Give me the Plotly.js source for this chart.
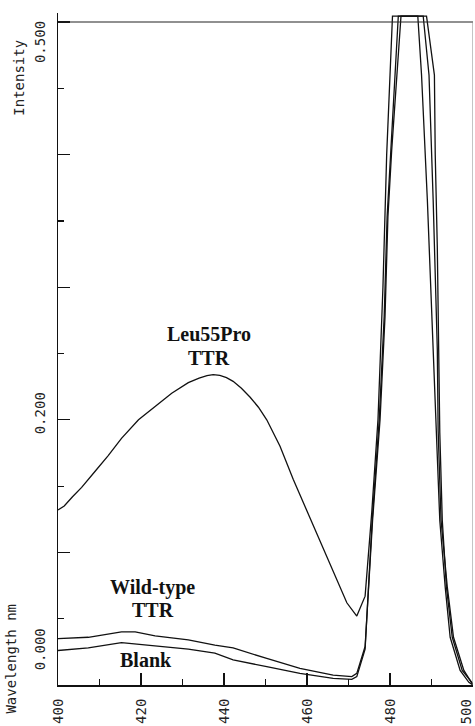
<!DOCTYPE html>
<html>
<head>
<meta charset="utf-8">
<script src="https://cdn.plot.ly/plotly-3.0.1.min.js"></script>
<style>html,body{margin:0;padding:0;background:#fff;}#chart{width:475px;height:726px;}</style>
</head>
<body>
<div id="chart"></div>
<script>
// ---- data (wavelength nm, intensity) ----
const leuX = [400, 401.5, 403.5, 405.7, 408.9, 412.1, 415.3, 419.4, 423.4, 427.4, 431.4, 434.0, 435.9, 437.4, 439.0, 440.6, 442.2, 444.2, 446.3, 448.3, 450.3, 453.5, 456.7, 459.9, 463.1, 466.3, 469.6, 472, 474, 475.6, 477.1, 478.3, 479.2, 480.6, 488.8, 490.7, 490.9, 491.4, 491.7, 492.0, 492.6, 493.6, 495.0, 497.4, 499.7, 500];
const leuY = [0.132, 0.135, 0.142, 0.149, 0.161, 0.173, 0.186, 0.200, 0.210, 0.220, 0.228, 0.2315, 0.2333, 0.234, 0.2335, 0.2318, 0.229, 0.2238, 0.217, 0.2095, 0.200, 0.180, 0.155, 0.132, 0.109, 0.087, 0.062, 0.052, 0.067, 0.13, 0.2, 0.30, 0.40, 0.5045, 0.5045, 0.46, 0.40, 0.33, 0.25, 0.19, 0.124, 0.074, 0.036, 0.011, 0.002, 0.0];

const wildX = [400, 407.3, 415.3, 418.6, 423.4, 431.4, 437.8, 442.2, 450.3, 458.3, 466.3, 470.8, 472, 474, 475.8, 477.6, 478.8, 479.5, 480.4, 482.65, 486.7, 487.6, 489.0, 490.4, 491.1, 492.0, 493.3, 494.5, 496.9, 499.0, 500];
const wildY = [0.035, 0.036, 0.040, 0.040, 0.037, 0.034, 0.030, 0.028, 0.020, 0.0126, 0.0075, 0.0063, 0.0088, 0.029, 0.124, 0.2, 0.278, 0.353, 0.403, 0.5045, 0.5045, 0.46, 0.366, 0.253, 0.192, 0.124, 0.074, 0.036, 0.011, 0.002, 0.0];

const blankX = [400, 407.3, 415.3, 418.6, 423.4, 431.4, 437.8, 442.2, 450.3, 458.3, 466.3, 470.8, 472, 474, 475.7, 477.4, 478.6, 479.3, 480.2, 482.0, 488.0, 489.4, 490.4, 491.4, 491.6, 492.3, 493.8, 495.3, 497.8, 499.6, 500];
const blankY = [0.026, 0.028, 0.032, 0.031, 0.029, 0.027, 0.024, 0.019, 0.0138, 0.0088, 0.005, 0.0043, 0.0063, 0.027, 0.124, 0.2, 0.278, 0.353, 0.403, 0.5045, 0.5045, 0.46, 0.366, 0.253, 0.192, 0.124, 0.074, 0.036, 0.011, 0.002, 0.0];

const xTickVals = [400, 420, 440, 460, 480, 500];
const xTickText = ["400", "420", "440", "460", "480", "500"];
const yTickText = ["0.500", "0.200", "0.000"];
const yTickPos = [0.485, 0.205, 0.027];

const seriesNames = ["Leu55Pro TTR", "Wild-type TTR", "Blank"];
const curveLabels = [
  {text: "Leu55Pro", x: 436.5, y: 0.2649},
  {text: "TTR", x: 436.5, y: 0.2468},
  {text: "Wild-type", x: 422.8, y: 0.0732},
  {text: "TTR", x: 422.8, y: 0.0565},
  {text: "Blank", x: 421.2, y: 0.0188}
];

const lineStyle = {color: "#111", width: 1.3};
const traces = [
  {x: leuX, y: leuY, name: seriesNames[0], mode: "lines", line: lineStyle},
  {x: wildX, y: wildY, name: seriesNames[1], mode: "lines", line: lineStyle},
  {x: blankX, y: blankY, name: seriesNames[2], mode: "lines", line: lineStyle}
];

const monoFont = {family: "DejaVu Sans Mono", size: 14, color: "#222"};
const annotations = [];
curveLabels.forEach(c => annotations.push({
  text: "<b>" + c.text + "</b>", x: c.x, y: c.y, xref: "x", yref: "y",
  showarrow: false, xanchor: "center", yanchor: "middle",
  font: {family: "Liberation Serif", size: 20, color: "#111"}
}));
xTickVals.forEach((v, i) => annotations.push({
  text: xTickText[i], x: (i === xTickVals.length - 1) ? 498.2 : v, y: -0.040, xref: "x", yref: "paper",
  showarrow: false, textangle: -90, xanchor: "center", yanchor: "middle", font: monoFont
}));
yTickText.forEach((t, i) => annotations.push({
  text: t, x: -0.043, y: yTickPos[i], xref: "paper", yref: "y",
  showarrow: false, textangle: -90, xanchor: "center", yanchor: "middle", font: monoFont
}));
annotations.push({text: "Intensity", x: -0.094, y: 0.458, xref: "paper", yref: "y",
  showarrow: false, textangle: -90, xanchor: "center", yanchor: "middle", font: monoFont});
annotations.push({text: "Wavelength nm", x: -0.113, y: 0.020, xref: "paper", yref: "y",
  showarrow: false, textangle: -90, xanchor: "center", yanchor: "middle", font: monoFont});

const layout = {
  width: 475, height: 726,
  margin: {l: 58, r: 2, t: 13, b: 41},
  paper_bgcolor: "#fff", plot_bgcolor: "#fff",
  showlegend: false,
  xaxis: {
    range: [400, 500], showgrid: false, zeroline: false,
    showline: true, linecolor: "#111", linewidth: 1.5,
    ticks: "inside", tick0: 400, dtick: 20, ticklen: 12, tickwidth: 1.2, tickcolor: "#111",
    minor: {dtick: 10, ticks: "inside", ticklen: 6, tickwidth: 1.2, tickcolor: "#111", showgrid: false},
    showticklabels: false
  },
  yaxis: {
    range: [0, 0.5068], showgrid: false, zeroline: false,
    showline: true, linecolor: "#111", linewidth: 1.5,
    ticks: "inside", tick0: 0, dtick: 0.1, ticklen: 12, tickwidth: 1.2, tickcolor: "#111",
    minor: {dtick: 0.05, ticks: "inside", ticklen: 6, tickwidth: 1.2, tickcolor: "#111", showgrid: false},
    showticklabels: false
  },
  shapes: [
    {type: "line", xref: "x", yref: "y", x0: 400, x1: 500, y0: 0.5, y1: 0.5, line: {color: "#222", width: 1.2}},
    {type: "line", xref: "x", yref: "y", x0: 500, x1: 500, y0: 0, y1: 0.5, line: {color: "#888", width: 1}}
  ],
  annotations: annotations
};

Plotly.newPlot("chart", traces, layout, {staticPlot: true, displayModeBar: false});
</script>
</body>
</html>
